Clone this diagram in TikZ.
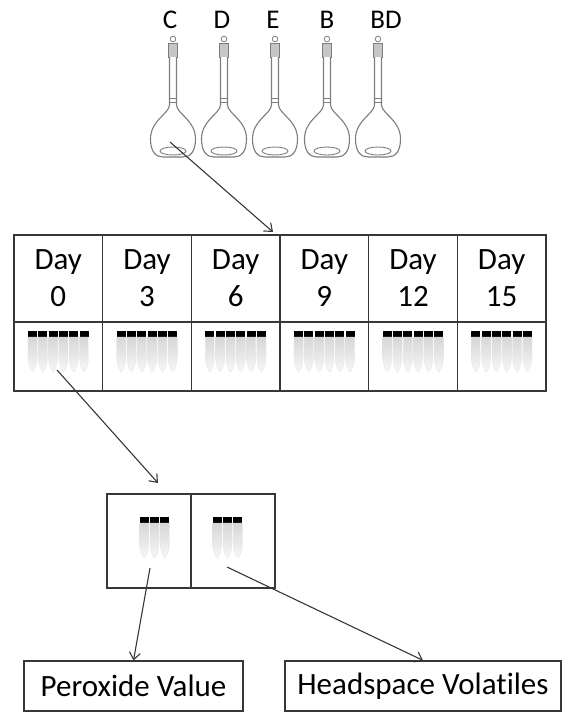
\documentclass[tikz,border=0pt]{standalone}
\usepackage{fontspec}
\setmainfont[Ligatures=NoCommon]{Carlito}
\usetikzlibrary{arrows.meta}

\definecolor{LineGrey}{RGB}{55,55,55}
\definecolor{GlassGrey}{RGB}{125,125,125}

\begin{document}
\begin{tikzpicture}[x=1pt, y=-1pt,
    cell/.style={draw=LineGrey, line width=1.2pt, rectangle, inner sep=0pt},
    lbl/.style={font=\fontsize{31}{37}\selectfont, align=center},
    link/.style={draw=LineGrey, line width=1.1pt, -{Straight Barb[length=7pt,width=11pt]}},
    vial/.pic={
        \fill[black] (-4.5,0) rectangle (4.5,6);
        \shade[top color=gray!32, bottom color=gray!6, draw=gray!22, line width=0.3pt]
            (-4.6,6) -- (-4.6,26) .. controls (-4.6,34) and (-1.5,40) .. (0,41)
            .. controls (1.5,40) and (4.6,34) .. (4.6,26) -- (4.6,6) -- cycle;
    },
    flask/.pic={
        \draw[GlassGrey, line width=0.8pt] (0,39) circle (2.8);
        \draw[GlassGrey, fill=gray!45, line width=0.6pt] (-4.5,43) rectangle (4.5,57);
        \draw[GlassGrey, line width=1.1pt, fill=white] (-3.5,57) -- (-3.5,105)
            .. controls (-4,114) and (-22.5,120) .. (-22.5,139)
            .. controls (-22.5,152) and (-17,157) .. (-10,157) -- (10,157)
            .. controls (17,157) and (22.5,152) .. (22.5,139)
            .. controls (22.5,120) and (4,114) .. (3.5,105) -- (3.5,57);
        \draw[GlassGrey, line width=0.6pt] (-3.8,98) -- (3.8,98) (-3.8,102) -- (3.8,102);
        \draw[GlassGrey, line width=0.9pt] (0,151) ellipse (13 and 4);
    }]
    \useasboundingbox (0,0) rectangle (562,713);

    % emulsions in volumetric flasks
    \foreach \x/\lx/\name in {173/170/C, 224/222/D, 275/273/E, 327/327/B, 378/386/BD} {
        \pic at (\x,0) {flask};
        \node[font=\fontsize{27}{30}\selectfont] (lab\name) at (\lx,20) {\name};
    }

    % storage days, each with a rack of six tubes
    \foreach \t [count=\i from 0] in {0,3,6,9,12,15} {
        \node[cell, lbl, minimum width=88.67pt, minimum height=87pt] (day\t) at ({58.33+88.67*\i},278.5) {Day\\\t};
        \node[cell, minimum width=88.67pt, minimum height=69pt] (rack\t) at ({58.33+88.67*\i},356.5) {};
        \foreach \k in {0,...,5}
            \pic at ({58.33+88.67*\i+(\k-2.5)*10.3},331) {vial};
    }

    % one day's tubes split in two
    \node[cell, minimum width=84pt, minimum height=94pt] (pvcell) at (149,541) {};
    \node[cell, minimum width=84pt, minimum height=94pt] (hscell) at (233,541) {};
    \foreach \k in {0,1,2} {
        \pic at ({154.5+(\k-1)*10.3},517) {vial};
        \pic at ({227.5+(\k-1)*10.3},517) {vial};
    }

    % analyses
    \node[cell, lbl, minimum width=219pt, minimum height=50pt] (pv) at (133.5,686) {Peroxide Value};
    \node[cell, lbl, minimum width=276pt, minimum height=50pt] (hv) at (423,686) {Headspace Volatiles};

    \coordinate (mixC) at (170,142);
    \coordinate (intoday) at (273,232);
    \coordinate (pick) at (57,370);
    \coordinate (split) at (158,483);
    \coordinate (pvtube) at (150,568);
    \coordinate (hstube) at (227,567);

    \draw[link] (mixC) -- (intoday);
    \draw[link] (pick) -- (split);
    \draw[link] (pvtube) -- (pv.north);
    \draw[link] (hstube) -- (hv.north);
\end{tikzpicture}
\end{document}
